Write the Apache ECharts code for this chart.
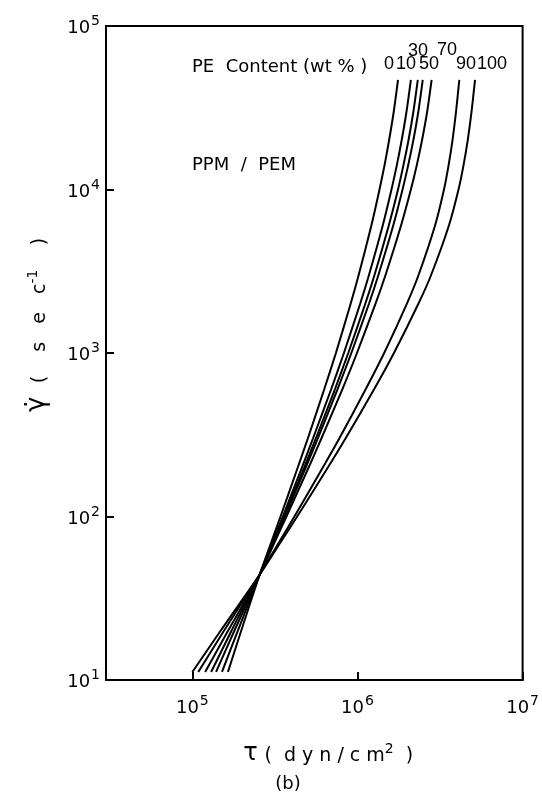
<!DOCTYPE html>
<html lang="en">
<head>
    <meta charset="UTF-8">
    <title>PPM/PEM flow curves</title>
    <script src="https://cdn.jsdelivr.net/npm/echarts@6/dist/echarts.min.js"></script>
    <style>
        html, body { margin: 0; padding: 0; background: #fff; }
        #chart { width: 542px; height: 802px; }
    </style>
</head>
<body>
    <div id="chart"></div>
    <script>
        // shear rate (sec^-1) read at the same levels for every curve
        var shearRate = [11.2, 20, 44, 70, 100, 200, 300, 600, 1000, 2000, 3000, 6000, 10000, 14000, 20000, 30000, 46800];
        // shear stress (dyn/cm2) for each PE content (wt%)
        var pe0   = [1.643e5, 1.976e5, 2.554e5, 3.013e5, 3.421e5, 4.354e5, 5.004e5, 6.291e5, 7.404e5, 9.093e5, 1.017e6, 1.213e6, 1.360e6, 1.457e6, 1.554e6, 1.659e6, 1.760e6];
        var pe10  = [1.512e5, 1.885e5, 2.554e5, 3.067e5, 3.531e5, 4.614e5, 5.376e5, 6.930e5, 8.279e5, 1.038e6, 1.174e6, 1.421e6, 1.607e6, 1.729e6, 1.852e6, 1.982e6, 2.106e6];
        var pe30  = [1.392e5, 1.797e5, 2.554e5, 3.097e5, 3.590e5, 4.762e5, 5.596e5, 7.303e5, 8.796e5, 1.115e6, 1.268e6, 1.546e6, 1.760e6, 1.896e6, 2.037e6, 2.182e6, 2.319e6];
        var pe50  = [1.300e5, 1.726e5, 2.554e5, 3.119e5, 3.635e5, 4.868e5, 5.753e5, 7.568e5, 9.181e5, 1.174e6, 1.339e6, 1.645e6, 1.875e6, 2.026e6, 2.179e6, 2.338e6, 2.484e6];
        var pe70  = [1.196e5, 1.645e5, 2.554e5, 3.157e5, 3.716e5, 5.068e5, 6.045e5, 8.098e5, 9.931e5, 1.285e6, 1.479e6, 1.834e6, 2.106e6, 2.284e6, 2.460e6, 2.644e6, 2.813e6];
        var pe90  = [1.086e5, 1.555e5, 2.554e5, 3.364e5, 4.150e5, 6.180e5, 7.759e5, 1.121e6, 1.451e6, 1.990e6, 2.344e6, 2.947e6, 3.342e6, 3.560e6, 3.762e6, 3.954e6, 4.138e6];
        var pe100 = [1.000e5, 1.483e5, 2.554e5, 3.439e5, 4.312e5, 6.631e5, 8.463e5, 1.261e6, 1.663e6, 2.338e6, 2.793e6, 3.575e6, 4.093e6, 4.384e6, 4.652e6, 4.909e6, 5.152e6];
        var contents = ['0', '10', '30', '50', '70', '90', '100'];
        var curves = [pe0, pe10, pe30, pe50, pe70, pe90, pe100];

        var font = 'DejaVu Sans';
        var chart = echarts.init(document.getElementById('chart'));

        function powLabel(v) {
            var e = Math.round(Math.log(v) / Math.LN10);
            if (Math.abs(Math.pow(10, e) - v) / v > 1e-6) return '';
            return '{b|10}{s|' + e + '}';
        }
        var powRich = {
            b: { fontSize: 18, fontFamily: font, color: '#000', verticalAlign: 'bottom' },
            s: { fontSize: 14, fontFamily: font, color: '#000', verticalAlign: 'bottom', padding: [0, 0, 9, 1] }
        };

        var series = [];
        for (var i = 0; i < curves.length; i++) {
            var pts = [];
            for (var j = 0; j < shearRate.length; j++) pts.push([curves[i][j], shearRate[j]]);
            series.push({
                name: contents[i],
                type: 'line',
                data: pts,
                smooth: 0.25,
                showSymbol: false,
                silent: true,
                lineStyle: { color: '#000', width: 2 }
            });
        }

        // curve labels at the top of the plot
        var tags = [
            ['0', 389, 64], ['10', 406, 64], ['50', 429, 64], ['30', 418, 51],
            ['70', 447, 50], ['90', 466, 64], ['100', 492, 64]
        ];
        var graphics = [];
        tags.forEach(function (t) {
            graphics.push({
                type: 'text', x: t[1], y: t[2],
                style: { text: t[0], fontSize: 18, fontFamily: 'Liberation Sans', fill: '#000',
                         textAlign: 'center', textVerticalAlign: 'middle' }
            });
        });
        graphics.push({
            type: 'text', x: 192, y: 67,
            style: { text: 'PE  Content (wt % )', fontSize: 18, fontFamily: font, fill: '#000',
                     textAlign: 'left', textVerticalAlign: 'middle' }
        });
        graphics.push({
            type: 'text', x: 192, y: 165,
            style: { text: 'PPM  /  PEM', fontSize: 18, fontFamily: font, fill: '#000',
                     textAlign: 'left', textVerticalAlign: 'middle' }
        });
        graphics.push({
            type: 'text', x: 288, y: 784,
            style: { text: '(b)', fontSize: 18, fontFamily: font, fill: '#000',
                     textAlign: 'center', textVerticalAlign: 'middle' }
        });

        chart.setOption({
            animation: false,
            backgroundColor: '#fff',
            grid: {
                left: 106, right: 19, top: 26, bottom: 122,
                show: true, borderColor: '#000', borderWidth: 2
            },
            xAxis: {
                type: 'log',
                logBase: 10,
                min: 30000,
                max: 1e7,
                name: '{t|τ}  {n|(  d y n / c m}{s|2}{n|  )}',
                nameLocation: 'middle',
                nameGap: 62,
                nameTextStyle: {
                    padding: [0, 0, 0, 28],
                    rich: {
                        t: { fontSize: 24, fontFamily: font, color: '#000', verticalAlign: 'bottom' },
                        n: { fontSize: 19, fontFamily: font, color: '#000', verticalAlign: 'bottom' },
                        s: { fontSize: 14, fontFamily: font, color: '#000', verticalAlign: 'bottom', padding: [0, 0, 10, 0] }
                    }
                },
                axisLine: { lineStyle: { color: '#000', width: 2 } },
                axisTick: { inside: true, length: 8, lineStyle: { color: '#000', width: 2 } },
                minorTick: { show: false },
                splitLine: { show: false },
                axisLabel: { margin: 14, formatter: powLabel, rich: powRich }
            },
            yAxis: {
                type: 'log',
                logBase: 10,
                min: 10,
                max: 1e5,
                name: '{g|γ̇}    {n|(    s   e   c}{s|-1}{n|    )}',
                nameLocation: 'middle',
                nameRotate: 90,
                nameGap: 56,
                nameTextStyle: {
                    padding: [0, 0, 0, 56],
                    rich: {
                        g: { fontSize: 26, fontFamily: font, color: '#000', verticalAlign: 'bottom' },
                        n: { fontSize: 19, fontFamily: font, color: '#000', verticalAlign: 'bottom' },
                        s: { fontSize: 14, fontFamily: font, color: '#000', verticalAlign: 'bottom', padding: [0, 0, 10, 0] }
                    }
                },
                axisLine: { lineStyle: { color: '#000', width: 2 } },
                axisTick: { inside: true, length: 8, lineStyle: { color: '#000', width: 2 } },
                minorTick: { show: false },
                splitLine: { show: false },
                axisLabel: { margin: 6, formatter: powLabel, rich: powRich }
            },
            graphic: graphics,
            series: series
        });
    </script>
</body>
</html>
